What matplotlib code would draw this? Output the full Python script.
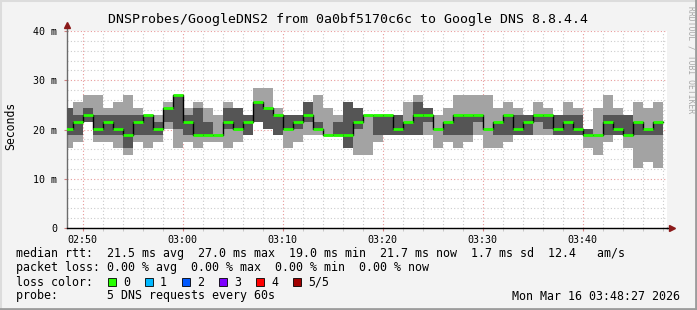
import matplotlib
matplotlib.use("Agg")
import matplotlib.pyplot as plt
from matplotlib.patches import Rectangle
from matplotlib.lines import Line2D
from matplotlib.ticker import MultipleLocator, FixedLocator
import numpy as np

# ---------------- data (ms) ----------------
# one column per minute, starting at 02:48 (minutes after 02:00)
minute_start = 48
n_cols = 60
ping_min = [16.2, 17.5, 21.6, 17.5, 17.5, 16.2, 14.8, 17.5, 16.2, 17.5,
            20.2, 16.2, 17.5, 16.2, 17.5, 17.5, 16.2, 17.5, 18.9, 21.6,
            20.2, 18.9, 16.2, 17.5, 18.9, 18.9, 18.9, 18.9, 16.2, 14.8,
            14.8, 17.5, 18.9, 18.9, 18.9, 18.9, 18.9, 16.2, 17.5, 16.2,
            17.5, 18.9, 16.2, 16.2, 17.5, 18.9, 18.9, 18.9, 18.9, 18.9,
            18.9, 18.9, 16.2, 14.8, 17.5, 18.9, 16.2, 12.1, 13.5, 12.1]
ping_low = [18.9, 18.9, 21.6, 18.9, 18.9, 18.9, 16.2, 18.9, 18.9, 18.9,
            21.6, 20.2, 18.9, 18.9, 18.9, 18.9, 20.2, 20.2, 18.9, 21.6,
            20.2, 18.9, 20.2, 20.2, 21.6, 20.2, 18.9, 18.9, 16.2, 20.2,
            22.9, 18.9, 18.9, 18.9, 18.9, 18.9, 21.6, 20.2, 18.9, 18.9,
            18.9, 21.6, 20.2, 18.9, 18.9, 18.9, 18.9, 21.6, 20.2, 18.9,
            18.9, 18.9, 18.9, 18.9, 18.9, 18.9, 18.9, 18.9, 18.9, 18.9]
median_rtt = [20.2, 21.6, 22.9, 20.2, 21.6, 20.2, 18.9, 21.6, 22.9, 20.2,
              24.3, 27.0, 21.6, 18.9, 18.9, 18.9, 21.6, 20.2, 21.6, 25.6,
              24.3, 22.9, 20.2, 21.6, 22.9, 20.2, 18.9, 18.9, 18.9, 21.6,
              22.9, 22.9, 22.9, 20.2, 21.6, 22.9, 22.9, 20.2, 21.6, 22.9,
              22.9, 22.9, 20.2, 21.6, 22.9, 20.2, 21.6, 22.9, 22.9, 20.2,
              21.6, 20.2, 18.9, 18.9, 21.6, 20.2, 18.9, 21.6, 20.2, 21.6]
ping_high = [24.3, 22.9, 24.3, 22.9, 22.9, 22.9, 22.9, 22.9, 22.9, 21.6,
             24.3, 27.0, 22.9, 24.3, 21.6, 18.9, 24.3, 24.3, 22.9, 25.6,
             24.3, 22.9, 22.9, 22.9, 25.6, 21.6, 18.9, 21.6, 25.6, 24.3,
             22.9, 22.9, 22.9, 22.9, 21.6, 25.6, 24.3, 20.2, 21.6, 22.9,
             22.9, 22.9, 20.2, 21.6, 22.9, 22.9, 22.9, 22.9, 22.9, 22.9,
             22.9, 22.9, 20.2, 18.9, 22.9, 22.9, 22.9, 21.6, 20.2, 21.6]
ping_max = [24.3, 25.6, 27.0, 27.0, 24.3, 25.6, 27.0, 24.3, 22.9, 22.9,
            25.6, 27.0, 24.3, 25.6, 24.3, 22.9, 25.6, 24.3, 22.9, 28.4,
            28.4, 24.3, 22.9, 22.9, 25.6, 27.0, 24.3, 22.9, 25.6, 24.3,
            22.9, 22.9, 22.9, 22.9, 25.6, 27.0, 24.3, 22.9, 24.3, 27.0,
            27.0, 27.0, 27.0, 24.3, 25.6, 24.3, 22.9, 25.6, 24.3, 22.9,
            25.6, 24.3, 20.2, 24.3, 27.0, 24.3, 22.9, 25.6, 24.3, 25.6]

x_tick_minutes = [50, 60, 70, 80, 90, 100]
x_tick_labels = ["02:50", "03:00", "03:10", "03:20", "03:30", "03:40"]
y_ticks = [0, 10, 20, 30, 40]
y_tick_labels = ["0", "10 m", "20 m", "30 m", "40 m"]

loss_labels = ["0", "1", "2", "3", "4", "5/5"]
loss_colors = ["#26ff00", "#00b8ff", "#0059ff", "#7e00ff", "#ff0000", "#a10000"]

title = "DNSProbes/GoogleDNS2 from 0a0bf5170c6c to Google DNS 8.8.4.4"
legend_rtt = "median rtt:  21.5 ms avg  27.0 ms max  19.0 ms min  21.7 ms now  1.7 ms sd  12.4   am/s"
legend_loss = "packet loss: 0.00 % avg  0.00 % max  0.00 % min  0.00 % now"
legend_color = "loss color:"
legend_probe = "probe:       5 DNS requests every 60s"
stamp = "Mon Mar 16 03:48:27 2026"
# ------------------------------------------

W, H = 697, 310
MONO = "DejaVu Sans Mono"
BG = "#f3f3f3"

fig = plt.figure(figsize=(W / 100, H / 100), dpi=100, facecolor=BG)


def fx(x):
    return x / W


def fy(y):
    return 1 - y / H


# plot area: x 67..667 px, y 31..228 px
ax = fig.add_axes([fx(67), fy(228), 600 / W, 197 / H], facecolor="white")

t0 = minute_start + 27 / 60  # 02:48:27
ax.set_xlim(t0, t0 + 60)
ax.set_ylim(0, 40)

left_edges = np.arange(minute_start, minute_start + n_cols)
pmin = np.array(ping_min)
plow = np.array(ping_low)
pmed = np.array(median_rtt)
phigh = np.array(ping_high)
pmax = np.array(ping_max)

ax.bar(left_edges, pmax - pmin, bottom=pmin, width=1.0, align="edge",
       color="#a3a3a3", linewidth=0, zorder=2)
ax.bar(left_edges, phigh - plow, bottom=plow, width=1.0, align="edge",
       color="#555555", linewidth=0, zorder=3)

# median: black steps, green horizontal segments
edges = np.append(left_edges, left_edges[-1] + 1)
ax.step(edges, np.append(pmed, pmed[-1]), where="post", color="black",
        linewidth=1.0, zorder=4)
ax.hlines(pmed, left_edges, left_edges + 1, colors=loss_colors[0],
          linewidth=2.0, zorder=5)

# grid
ax.xaxis.set_major_locator(FixedLocator(x_tick_minutes))
ax.xaxis.set_minor_locator(MultipleLocator(2))
ax.yaxis.set_major_locator(FixedLocator(y_ticks))
ax.yaxis.set_minor_locator(MultipleLocator(2))
ax.grid(which="minor", color="#cccccc", linestyle=(0, (1, 2)), linewidth=0.8, zorder=1)
ax.grid(which="major", color="#e89a9a", linestyle=(0, (1, 2)), linewidth=0.8, zorder=1)
ax.set_axisbelow(True)

ax.set_xticklabels(x_tick_labels, fontfamily=MONO, fontsize=7.2)
ax.set_yticklabels(y_tick_labels, fontfamily=MONO, fontsize=7.2)
ax.tick_params(axis="x", which="major", length=2, color="#d08080", pad=3)
ax.tick_params(axis="x", which="minor", length=2, color="#c0c0c0")
ax.tick_params(axis="y", which="major", length=2, color="#d08080", pad=5)
ax.tick_params(axis="y", which="minor", length=0)

for s in ("top", "right"):
    ax.spines[s].set_visible(False)
ax.spines["left"].set_color("#6c6c6c")
ax.spines["left"].set_linewidth(1.0)
ax.spines["bottom"].set_color("#000000")
ax.spines["bottom"].set_linewidth(1.0)

# axis extensions and arrows
ax.plot([0, 0], [1, 1 + 6 / 197], transform=ax.transAxes, color="#6c6c6c",
        linewidth=1.0, clip_on=False)
ax.plot([0], [1 + 6 / 197], transform=ax.transAxes, marker="^", color="#8b1a1a",
        markersize=4, clip_on=False)
ax.plot([1, 1 + 4 / 600], [0, 0], transform=ax.transAxes, color="#000000",
        linewidth=1.0, clip_on=False)
ax.plot([1 + 5 / 600], [0], transform=ax.transAxes, marker=">", color="#8b1a1a",
        markersize=4, clip_on=False)

# title and labels
fig.text(fx(348), fy(19), title, family=MONO, fontsize=9.5, ha="center", va="center",
         color="#000000")
fig.text(fx(11), fy(126), "Seconds", family=MONO, fontsize=8.3, rotation=90,
         ha="center", va="center")
fig.text(fx(691), fy(60), "RRDTOOL / TOBI OETIKER", family=MONO, fontsize=5.8,
         rotation=270, ha="center", va="center", color="#a8a8a8")

fs = 8.35
for y, s in [(254, legend_rtt), (268, legend_loss), (282, legend_color), (296, legend_probe)]:
    fig.text(fx(16), fy(y), s, family=MONO, fontsize=fs, ha="left", va="center")

sw_x = [108, 145, 182, 219, 256, 293]
for xs, lab, col in zip(sw_x, loss_labels, loss_colors):
    fig.add_artist(Rectangle((fx(xs), fy(286)), 8 / W, 8 / H, transform=fig.transFigure,
                             facecolor=col, edgecolor="#000000", linewidth=0.6))
    fig.text(fx(xs + 15), fy(282), lab, family=MONO, fontsize=fs, ha="left", va="center")

fig.text(fx(680), fy(296), stamp, family=MONO, fontsize=fs, ha="right", va="center")

# frame shading
fig.add_artist(Line2D([0, 1], [fy(0.5), fy(0.5)], transform=fig.transFigure, color="#dcdcdc", linewidth=1.5))
fig.add_artist(Line2D([fx(0.5), fx(0.5)], [0, 1], transform=fig.transFigure, color="#dcdcdc", linewidth=1.5))
fig.add_artist(Line2D([0, 1], [fy(309), fy(309)], transform=fig.transFigure, color="#9c9c9c", linewidth=2))
fig.add_artist(Line2D([fx(696), fx(696)], [0, 1], transform=fig.transFigure, color="#9c9c9c", linewidth=2))

fig.savefig("out.png", dpi=100, facecolor=BG)
